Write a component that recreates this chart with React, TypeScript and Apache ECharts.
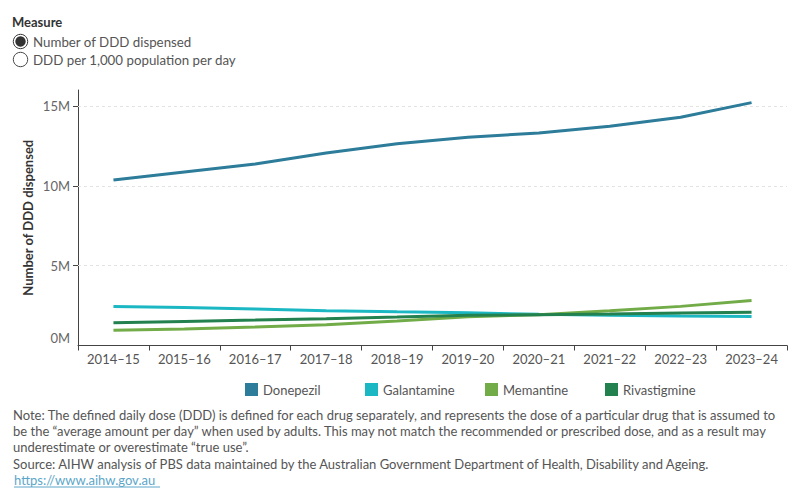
import React, { useEffect, useRef } from "react";
import * as echarts from "echarts";

const categories = ["2014–15", "2015–16", "2016–17", "2017–18", "2018–19", "2019–20", "2020–21", "2021–22", "2022–23", "2023–24"];
const donepezil = [10.37e6, 10.87e6, 11.37e6, 12.06e6, 12.64e6, 13.04e6, 13.31e6, 13.73e6, 14.29e6, 15.21e6];
const galantamine = [2.45e6, 2.38e6, 2.28e6, 2.18e6, 2.11e6, 2.05e6, 1.95e6, 1.89e6, 1.84e6, 1.82e6];
const memantine = [0.95e6, 1.03e6, 1.16e6, 1.30e6, 1.53e6, 1.80e6, 1.93e6, 2.18e6, 2.45e6, 2.82e6];
const rivastigmine = [1.43e6, 1.51e6, 1.59e6, 1.68e6, 1.78e6, 1.89e6, 1.93e6, 1.97e6, 2.03e6, 2.09e6];
const yTicks = [0, 5e6, 10e6, 15e6];
const seriesNames = ["Donepezil", "Galantamine", "Memantine", "Rivastigmine"];
const colors = ["#2C7C9A", "#1BB8C4", "#72AC48", "#23804F"];
const noteLines = [
  "Note: The defined daily dose (DDD) is defined for each drug separately, and represents the dose of a particular drug that is assumed to",
  "be the \u201Caverage amount per day\u201D when used by adults. This may not match the recommended or prescribed dose, and as a result may",
  "underestimate or overestimate \u201Ctrue use\u201D.",
  "Source: AIHW analysis of PBS data maintained by the Australian Government Department of Health, Disability and Ageing.",
];
const linkText = "https://www.aihw.gov.au";

const FONT = "Lato, 'Open Sans', sans-serif";

export default function App() {
  const ref = useRef<HTMLDivElement>(null);
  useEffect(() => {
    document.body.style.margin = "0";
    const chart = echarts.init(ref.current!, null, { renderer: "svg" });
    const dataSets = [donepezil, galantamine, memantine, rivastigmine];
    const series: any[] = dataSets.map((d, i) => ({
      name: seriesNames[i],
      type: "line",
      data: d,
      symbol: "none",
      lineStyle: { width: 3, color: colors[i] },
      itemStyle: { color: colors[i] },
      z: 3,
    }));
    series[0].markLine = {
      silent: true,
      symbol: "none",
      label: { show: false },
      lineStyle: { type: [3, 3], color: "#e3e3e3", width: 1 },
      data: yTicks.filter((v) => v > 0).map((v) => ({ yAxis: v })),
      z: 1,
    };
    const graphics: any[] = [
      { type: "text", left: 12, top: 15, style: { text: "Measure", font: `bold 13px ${FONT}`, fill: "#333" } },
      { type: "circle", shape: { cx: 20.5, cy: 41.5, r: 7.2 }, style: { fill: "#fff", stroke: "#333", lineWidth: 1 } },
      { type: "circle", shape: { cx: 20.5, cy: 41.5, r: 5.2 }, style: { fill: "#333" } },
      { type: "circle", shape: { cx: 20.5, cy: 59.5, r: 7.2 }, style: { fill: "#fff", stroke: "#444", lineWidth: 1 } },
      { type: "text", x: 33, y: 41.5, style: { text: "Number of DDD dispensed", font: `13.3px ${FONT}`, fill: "#555", verticalAlign: "middle" } },
      { type: "text", x: 33, y: 59.5, style: { text: "DDD per 1,000 population per day", font: `13.3px ${FONT}`, fill: "#555", verticalAlign: "middle" } },
    ];
    noteLines.forEach((t, i) => {
      graphics.push({ type: "text", x: 13, y: 415 + i * 16.2, style: { text: t, font: `13px ${FONT}`, fill: "#555", verticalAlign: "middle" } });
    });
    graphics.push({ type: "text", x: 14, y: 480, style: { text: linkText, font: `13px ${FONT}`, fill: "#5CA6C8", verticalAlign: "middle" } });
    graphics.push({ type: "line", shape: { x1: 14, y1: 487, x2: 160, y2: 487 }, style: { stroke: "#5CA6C8", lineWidth: 1 } });

    const legends = seriesNames.map((name, i) => ({
      left: 240 + i * 120,
      top: 378,
      itemWidth: 13,
      itemHeight: 13,
      icon: "rect",
      data: [name],
      textStyle: { fontSize: 13, color: "#555", fontFamily: FONT },
      selectedMode: false,
    }));

    chart.setOption({
      animation: false,
      textStyle: { fontFamily: FONT },
      grid: { left: 78, right: 13, top: 90, bottom: 154.5, containLabel: false },
      legend: legends,
      xAxis: {
        type: "category",
        data: categories,
        boundaryGap: true,
        axisLine: { lineStyle: { color: "#444", width: 1 } },
        axisTick: { show: true, length: 5, lineStyle: { color: "#444" } },
        axisLabel: { fontSize: 13, color: "#555", margin: 7, fontFamily: FONT },
        splitLine: { show: false },
      },
      yAxis: {
        type: "value",
        min: 0,
        max: 16e6,
        name: "Number of DDD dispensed",
        nameLocation: "middle",
        nameGap: 44,
        nameMoveOverlap: false,
        nameTextStyle: { fontSize: 13, fontWeight: "bold", color: "#333", fontFamily: FONT },
        axisLine: { show: true, lineStyle: { color: "#444", width: 1 } },
        axisTick: { show: true, length: 5, lineStyle: { color: "#444" }, customValues: yTicks.filter((v) => v > 0) },
        axisLabel: {
          fontSize: 13,
          color: "#666",
          margin: 8,
          fontFamily: FONT,
          customValues: yTicks,
          formatter: (v: number) => (v === 0 ? "{z|0M}" : v / 1e6 + "M"),
          rich: { z: { fontSize: 13, color: "#666", padding: [0, 0, 16, 0], fontFamily: FONT } },
        },
        splitLine: { show: false },
      },
      series,
      graphic: graphics,
    });
    return () => chart.dispose();
  }, []);
  return <div ref={ref} style={{ width: 800, height: 500 }} />;
}
